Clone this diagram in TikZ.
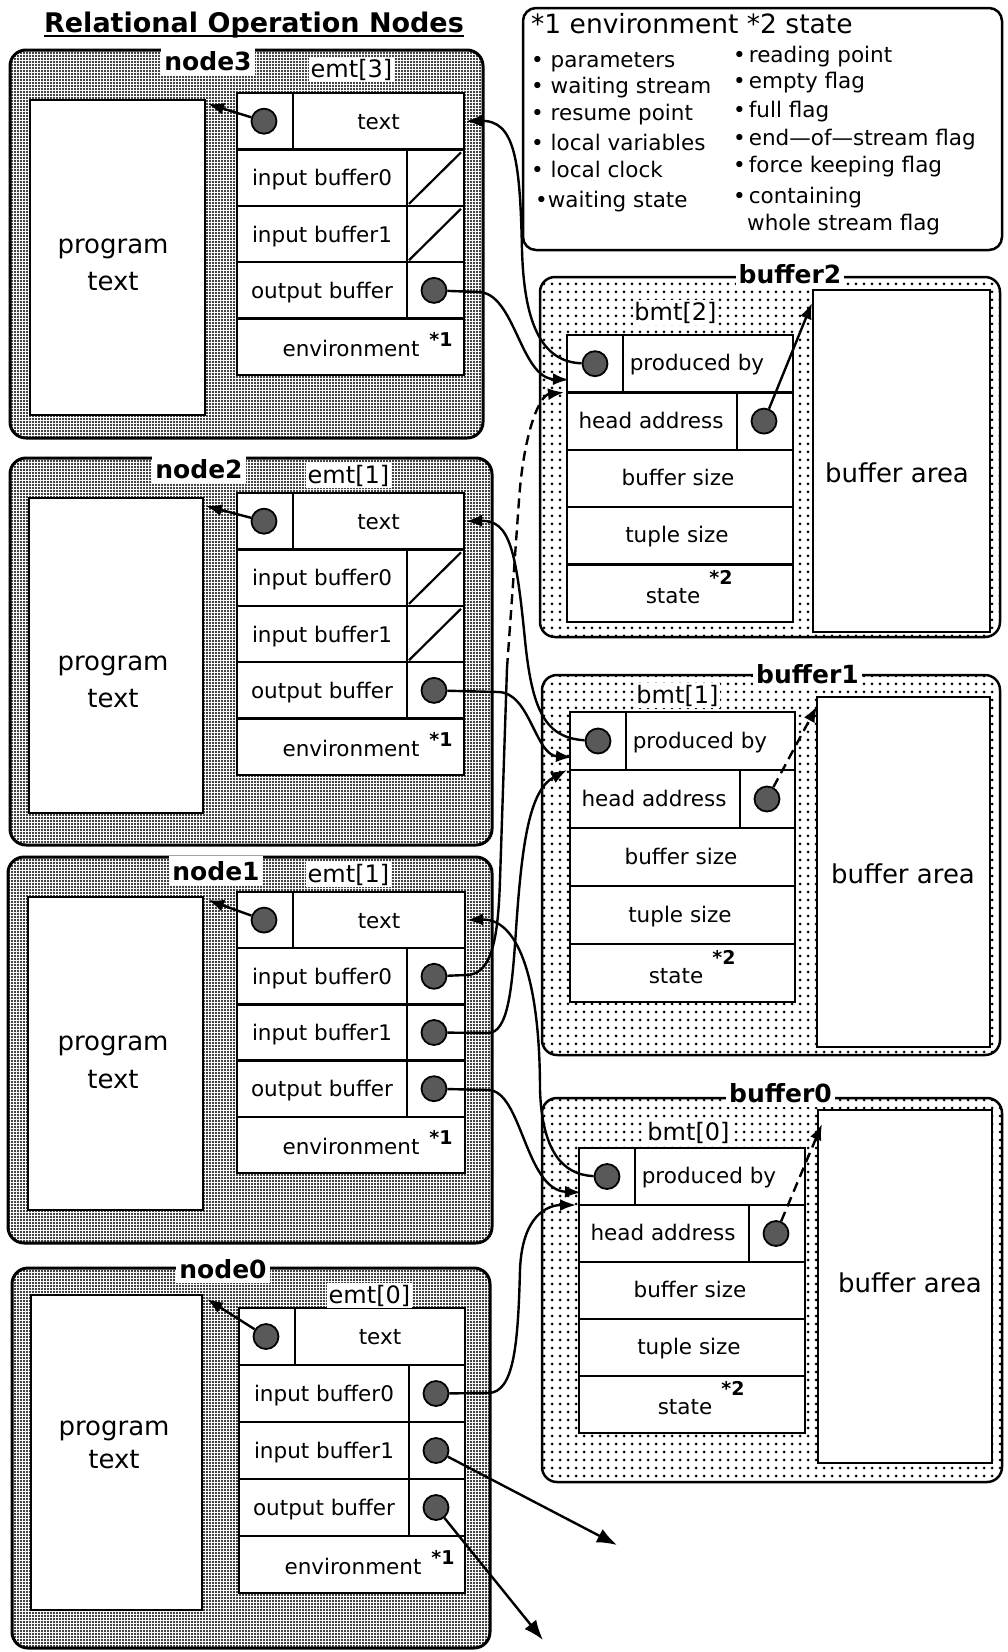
\documentclass[tikz,border=0pt]{standalone}
\usepackage{fontspec}
\setmainfont{DejaVu Sans}
\usetikzlibrary{patterns.meta,arrows.meta}

\tikzset{
  nodebox/.style={draw, line width=3pt, rounded corners=16pt, pattern={Dots[distance=3pt,radius=1.1pt]}},
  bufbox/.style={draw, line width=2.5pt, rounded corners=15pt, pattern={Dots[distance=8pt,radius=1.5pt]}},
  legbox/.style={draw, line width=2.5pt, rounded corners=13pt},
  whitebox/.style={draw, line width=2.5pt, fill=white},
  cellline/.style={line width=2.5pt},
  slash/.style={line width=2.2pt},
  celltext/.style={font=\fontsize{21.5}{24}\selectfont, inner sep=0pt, anchor=base},
  progtext/.style={font=\fontsize{26}{30}\selectfont, inner sep=0pt, anchor=base},
  startext/.style={font=\bfseries\fontsize{19}{21}\selectfont, inner sep=0pt, anchor=base},
  grplabel/.style={font=\bfseries\fontsize{25}{28}\selectfont, fill=white, inner xsep=3pt, inner ysep=5pt, anchor=base},
  tbllabel/.style={font=\fontsize{24}{27}\selectfont, fill=white, inner sep=1.5pt, anchor=base},
  legtext/.style={font=\fontsize{21.5}{24}\selectfont, inner sep=0pt, anchor=base west},
  leghead/.style={font=\fontsize{26.5}{30}\selectfont, inner sep=0pt, anchor=base west},
  ptr/.style={circle, draw, line width=1.8pt, fill=black!65, minimum size=25pt, inner sep=0pt},
  conn/.style={line width=2.4pt, -{Latex[length=16pt,width=12pt]}},
  bigconn/.style={line width=2.4pt, -{Latex[length=20pt,width=15pt]}},
  dashconn/.style={line width=2.4pt, dash pattern=on 10pt off 6pt, -{Latex[length=16pt,width=12pt]}},
}

% emt table: #1 prefix, #2 x left, #3 y top, #4 width, #5 row height, #6 s=slashes / d=dots
\newcommand\emtgroup[6]{%
\begin{scope}[shift={(#2,#3)}]
\pgfmathsetmacro\emtW{#4}%
\pgfmathsetmacro\emtH{#5}%
\draw[cellline,fill=white] (0,0) rectangle (\emtW,5*\emtH);
\foreach \kk in {1,2,3,4} {\draw[cellline] (0,\kk*\emtH) -- (\emtW,\kk*\emtH);}
\draw[cellline] (56,0) -- (56,\emtH);
\draw[cellline] (170,\emtH) -- (170,4*\emtH);
\node[ptr] (#1tdot) at (27,0.5*\emtH) {};
\node[celltext] (#1txt) at ({(56+\emtW)/2},0.5*\emtH+8) {text};
\coordinate (#1txte) at (\emtW+2,0.5*\emtH);
\node[celltext] (#1in0) at (85,1.5*\emtH+8) {input buffer0};
\node[celltext] (#1in1) at (85,2.5*\emtH+8) {input buffer1};
\node[celltext] (#1out) at (85,3.5*\emtH+8) {output buffer};
\node[celltext] (#1env) at (114,4.5*\emtH+10) {environment};
\node[startext] (#1envs) at (204,4.5*\emtH) {*1};
\node[ptr] (#1odot) at (197,3.5*\emtH) {};
\if#6s
\draw[slash] (172,2*\emtH-2) -- (\emtW-3,\emtH+3);
\draw[slash] (172,3*\emtH-2) -- (\emtW-3,2*\emtH+3);
\else
\node[ptr] (#1i0dot) at (197,1.5*\emtH) {};
\node[ptr] (#1i1dot) at (197,2.5*\emtH) {};
\fi
\end{scope}}

% bmt table: #1 prefix, #2 x left, #3 y top, #4 width, #5 row height
\newcommand\bmtgroup[5]{%
\begin{scope}[shift={(#2,#3)}]
\pgfmathsetmacro\bmtW{#4}%
\pgfmathsetmacro\bmtH{#5}%
\draw[cellline,fill=white] (0,0) rectangle (\bmtW,5*\bmtH);
\foreach \kk in {1,2,3,4} {\draw[cellline] (0,\kk*\bmtH) -- (\bmtW,\kk*\bmtH);}
\draw[cellline] (56,0) -- (56,\bmtH);
\draw[cellline] (170,\bmtH) -- (170,2*\bmtH);
\node[ptr] (#1pdot) at (28,0.5*\bmtH) {};
\node[celltext] (#1prod) at (130,0.5*\bmtH+7) {produced by};
\node[celltext] (#1head) at (84,1.5*\bmtH+7) {head address};
\node[ptr] (#1hdot) at (197,1.5*\bmtH) {};
\node[celltext] (#1bsz) at (111,2.5*\bmtH+7) {buffer size};
\node[celltext] (#1tsz) at (110,3.5*\bmtH+7) {tuple size};
\node[celltext] (#1st) at (106,4.5*\bmtH+10) {state};
\node[startext] (#1sts) at (154,4.5*\bmtH-9) {*2};
\coordinate (#1inA) at (2,0.78*\bmtH);
\coordinate (#1inB) at (-3,\bmtH);
\end{scope}}

\begin{document}
\begin{tikzpicture}[x=1pt,y=-1pt]
\useasboundingbox (0,0) rectangle (1008,1652);

% title
\node[font=\bfseries\fontsize{27}{30}\selectfont, inner sep=0pt, anchor=base] (title) at (254,32) {Relational Operation Nodes};
\draw[line width=2.5pt] ([yshift=-4pt]title.base west) -- ([yshift=-4pt]title.base east);

% legend
\draw[legbox] (523,8) rectangle (1002,250);
\node[leghead] (lhead) at (531,33) {*1 environment *2 state};
\node[legtext] (l1) at (531,67) {• parameters};
\node[legtext] (l2) at (531,93) {• waiting stream};
\node[legtext] (l3) at (531,120) {• resume point};
\node[legtext] (l4) at (531,150) {• local variables};
\node[legtext] (l5) at (531,177) {• local clock};
\node[legtext] (l6) at (535,207) {•waiting state};
\node[legtext] (r1) at (733,62) {•\hspace{3pt}reading point};
\node[legtext] (r2) at (733,88) {•\hspace{3pt}empty flag};
\node[legtext] (r3) at (733,117) {•\hspace{3pt}full flag};
\node[legtext] (r4) at (733,145) {•\hspace{3pt}end—of—stream flag};
\node[legtext] (r5) at (733,172) {•\hspace{3pt}force keeping flag};
\node[legtext] (r6) at (733,203) {•\hspace{3pt}containing};
\node[legtext] (r7) at (747,230) {whole stream flag};

% node3
\draw[nodebox] (10,50) rectangle (483,438);
\draw[whitebox] (30,100) rectangle (205,415);
\node[progtext] (n3prog) at (113,253) {program};
\node[progtext] (n3text) at (113,290) {text};
\coordinate (n3pNE) at (208,104);
\emtgroup{n3}{237}{93}{227}{56.4}{s}
\node[grplabel] (n3lab) at (208,70) {node3};
\node[tbllabel] (n3emt) at (351.5,77) {emt[3]};

% node2
\draw[nodebox] (10,458) rectangle (492,845);
\draw[whitebox] (29,498) rectangle (203,813);
\node[progtext] (n2prog) at (113,670) {program};
\node[progtext] (n2text) at (113,707) {text};
\coordinate (n2pNE) at (206,506);
\emtgroup{n2}{237}{493}{227}{56.4}{s}
\node[grplabel] (n2lab) at (199,478) {node2};
\node[tbllabel] (n2emt) at (348.5,483) {emt[1]};

% node1
\draw[nodebox] (8,857) rectangle (492,1243);
\draw[whitebox] (28,897) rectangle (203,1210);
\node[progtext] (n1prog) at (113,1050) {program};
\node[progtext] (n1text) at (113,1088) {text};
\coordinate (n1pNE) at (208,900);
\emtgroup{n1}{237}{892}{228}{56.2}{d}
\node[grplabel] (n1lab) at (216,880) {node1};
\node[tbllabel] (n1emt) at (348.5,882) {emt[1]};

% node0
\draw[nodebox] (12,1268) rectangle (490,1648);
\draw[whitebox] (31,1295) rectangle (202,1610);
\node[progtext] (n0prog) at (114,1435) {program};
\node[progtext] (n0text) at (114,1468) {text};
\coordinate (n0pNE) at (207,1299);
\emtgroup{n0}{239}{1308}{226}{57}{d}
\node[grplabel] (n0lab) at (223,1278) {node0};
\node[tbllabel] (n0emt) at (369.5,1303) {emt[0]};

% buffer2
\draw[bufbox] (540,277) rectangle (1000,637);
\bmtgroup{b2}{567}{335}{226}{57.4}
\draw[whitebox] (813,290) rectangle (990,632);
\node[progtext] (b2area) at (897,482) {buffer area};
\coordinate (b2areaA) at (812,303);
\node[grplabel] (b2lab) at (790,283) {buffer2};
\node[tbllabel] (b2bmt) at (675.5,320) {bmt[2]};

% buffer1
\draw[bufbox] (542,675) rectangle (1000,1055);
\bmtgroup{b1}{570}{712}{225}{58}
\draw[whitebox] (817,697) rectangle (990,1047);
\node[progtext] (b1area) at (903,883) {buffer area};
\coordinate (b1areaA) at (817,706);
\node[grplabel] (b1lab) at (807.5,683) {buffer1};
\node[tbllabel] (b1bmt) at (677.5,703) {bmt[1]};

% buffer0
\draw[bufbox] (542,1098) rectangle (1002,1482);
\bmtgroup{b0}{579}{1148}{226}{57}
\draw[whitebox] (818,1110) rectangle (992,1463);
\node[progtext] (b0area) at (910,1292) {buffer area};
\coordinate (b0areaA) at (822,1124);
\node[grplabel] (b0lab) at (780.5,1102) {buffer0};
\node[tbllabel] (b0bmt) at (688.5,1140) {bmt[0]};

% free ends and intermediate points
\coordinate (n1i0mid) at (507,668);
\coordinate (n0i1end) at (617,1545);
\coordinate (n0oend) at (543,1640);

% text pointers to program text
\draw[conn] (n3tdot) -- (n3pNE);
\draw[conn] (n2tdot) -- (n2pNE);
\draw[conn] (n1tdot) -- (n1pNE);
\draw[conn] (n0tdot) -- (n0pNE);

% head address pointers to buffer areas
\draw[conn] (b2hdot) -- (b2areaA);
\draw[dashconn] (b1hdot) -- (b1areaA);
\draw[dashconn] (b0hdot) -- (b0areaA);

% produced by -> emt text
\draw[conn] (b2pdot) .. controls (540,362) and (524,320) .. (522,250) .. controls (520,160) and (515,120) .. (n3txte);
\draw[conn] (b1pdot) .. controls (545,738) and (532,710) .. (525,640) .. controls (516,550) and (510,520) .. (n2txte);
\draw[conn] (b0pdot) .. controls (562,1175) and (542,1150) .. (540,1090) .. controls (540,985) and (520,918) .. (n1txte);

% output buffers -> bmt
\draw[conn] (n3odot) -- (478,292) .. controls (515,292) and (520,378) .. (b2inA);
\draw[conn] (n2odot) -- (498,692) .. controls (530,692) and (535,755) .. (b1inA);
\draw[conn] (n1odot) -- (488,1090) .. controls (522,1090) and (525,1190) .. (b0inA);

% input buffers -> bmt
\draw[line width=2.4pt] (n1i0dot) -- (466,975) .. controls (490,975) and (498,945) .. (500,880) -- (n1i0mid);
\draw[dashconn] (n1i0mid) -- (519,500) .. controls (524,430) and (540,395) .. (b2inB);
\draw[conn] (n1i1dot) -- (488,1033) .. controls (508,1033) and (512,990) .. (516,930) .. controls (522,840) and (530,790) .. (b1inB);
\draw[conn] (n0i0dot) -- (488,1393) .. controls (514,1393) and (518,1345) .. (520,1270) .. controls (522,1215) and (548,1205) .. (b0inB);

% node0 outgoing
\draw[bigconn] (n0i1dot) -- (n0i1end);
\draw[bigconn] (n0odot) -- (n0oend);
\end{tikzpicture}
\end{document}
